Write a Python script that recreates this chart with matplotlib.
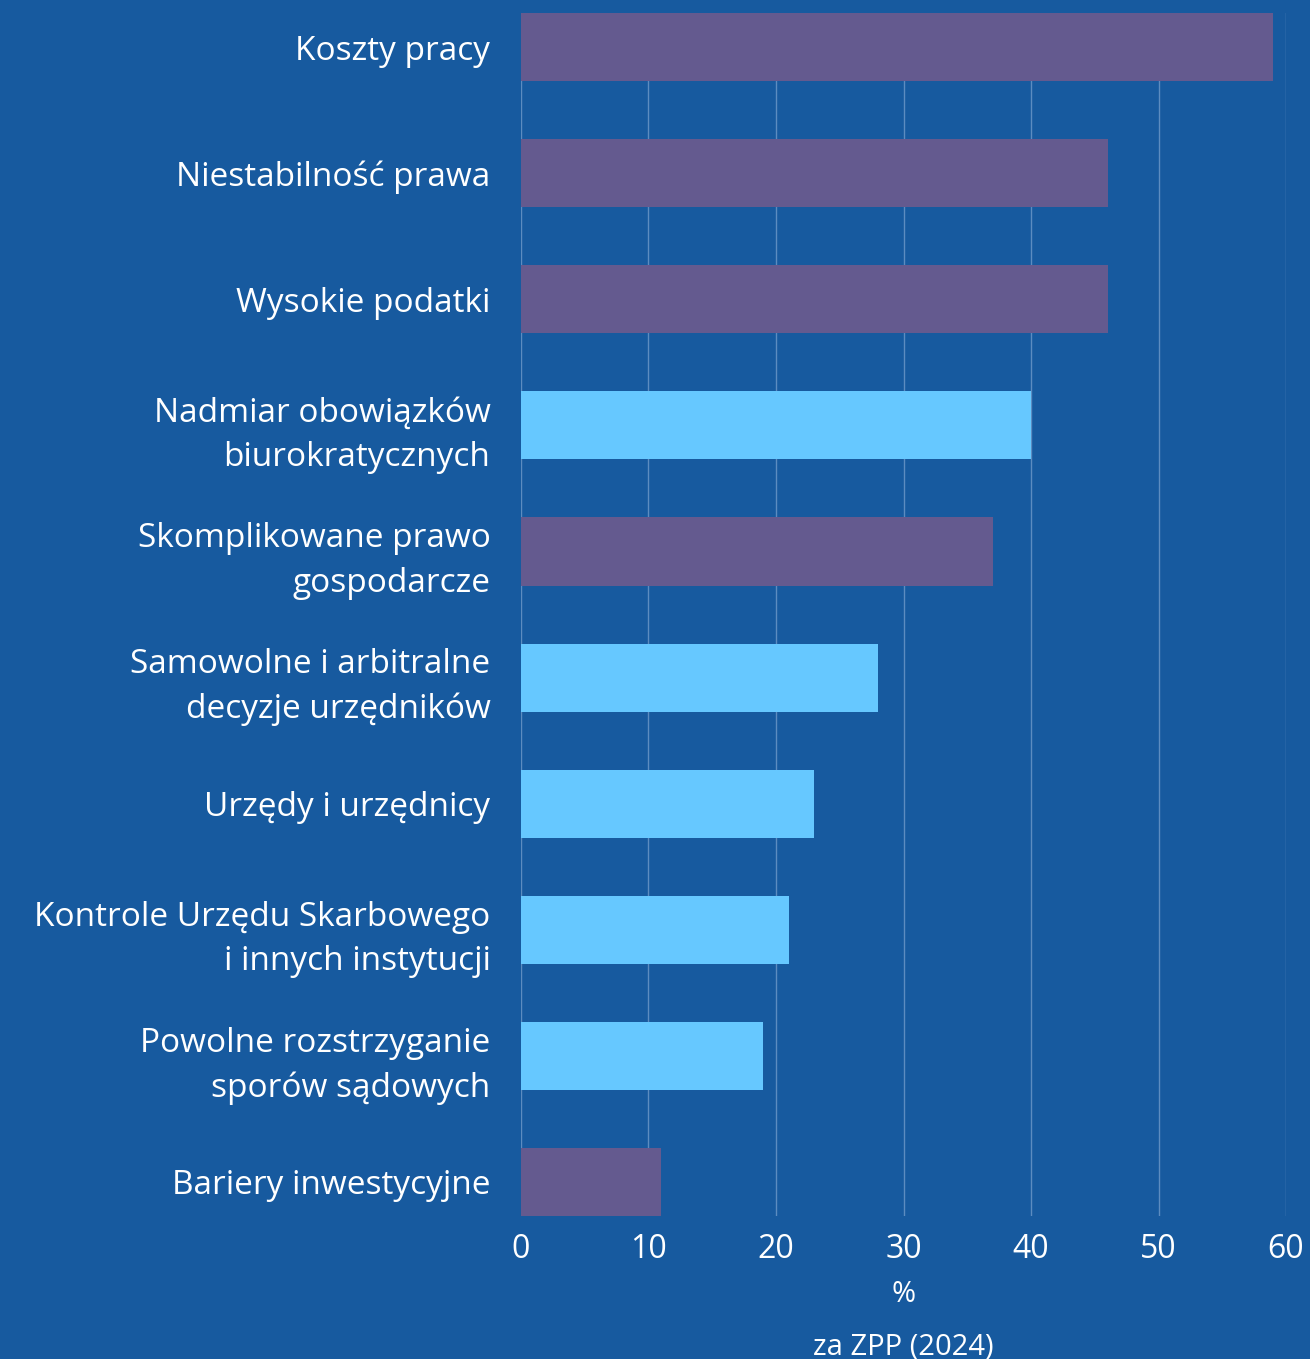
import matplotlib.pyplot as plt

categories = [
    'Koszty pracy',
    'Niestabilność prawa',
    'Wysokie podatki',
    'Nadmiar obowiązków\nbiurokratycznych',
    'Skomplikowane prawo\ngospodarcze',
    'Samowolne i arbitralne\ndecyzje urzędników',
    'Urzędy i urzędnicy',
    'Kontrole Urzędu Skarbowego\ni innych instytucji',
    'Powolne rozstrzyganie\nsporów sądowych',
    'Bariery inwestycyjne',
]
values = [59, 46, 46, 40, 37, 28, 23, 21, 19, 11]
groups = ['a', 'a', 'a', 'b', 'a', 'b', 'b', 'b', 'b', 'a']
x_ticks = [0, 10, 20, 30, 40, 50, 60]

bg = '#175A9F'
colors = {'a': '#645A8F', 'b': '#66C8FF'}

plt.rcParams['font.family'] = ['Open Sans', 'DejaVu Sans']

left, right = 0.3977, 0.9817
fig = plt.figure(figsize=(13.1, 13.59), dpi=100, facecolor=bg)
ax = fig.add_axes([left, 0.1052, right - left, 0.9904 - 0.1052])
ax.set_facecolor(bg)

ypos = list(range(len(categories)))
ax.barh(ypos, values, height=0.54, color=[colors[g] for g in groups], zorder=2)

ax.set_ylim(len(categories) - 1 + 0.27, -0.27)
ax.set_xlim(0, 60)
ax.set_xticks(x_ticks)
ax.set_yticks(ypos)
ax.set_yticklabels(categories, fontsize=24, color='white', linespacing=1.45)
ax.tick_params(axis='both', length=0, colors='white')
ax.tick_params(axis='y', pad=22, labelsize=24)
ax.tick_params(axis='x', pad=12, labelsize=23)
ax.grid(axis='x', color='#5C8CC0', linewidth=1, zorder=0)
for s in ax.spines.values():
    s.set_visible(False)

ax.set_xlabel('%', color='white', fontsize=21, labelpad=10)
fig.text(0.5 * (left + right), 0.009, 'za ZPP (2024)', color='white',
         fontsize=21, ha='center', va='center')

fig.savefig('out.png', dpi=100, facecolor=bg)
